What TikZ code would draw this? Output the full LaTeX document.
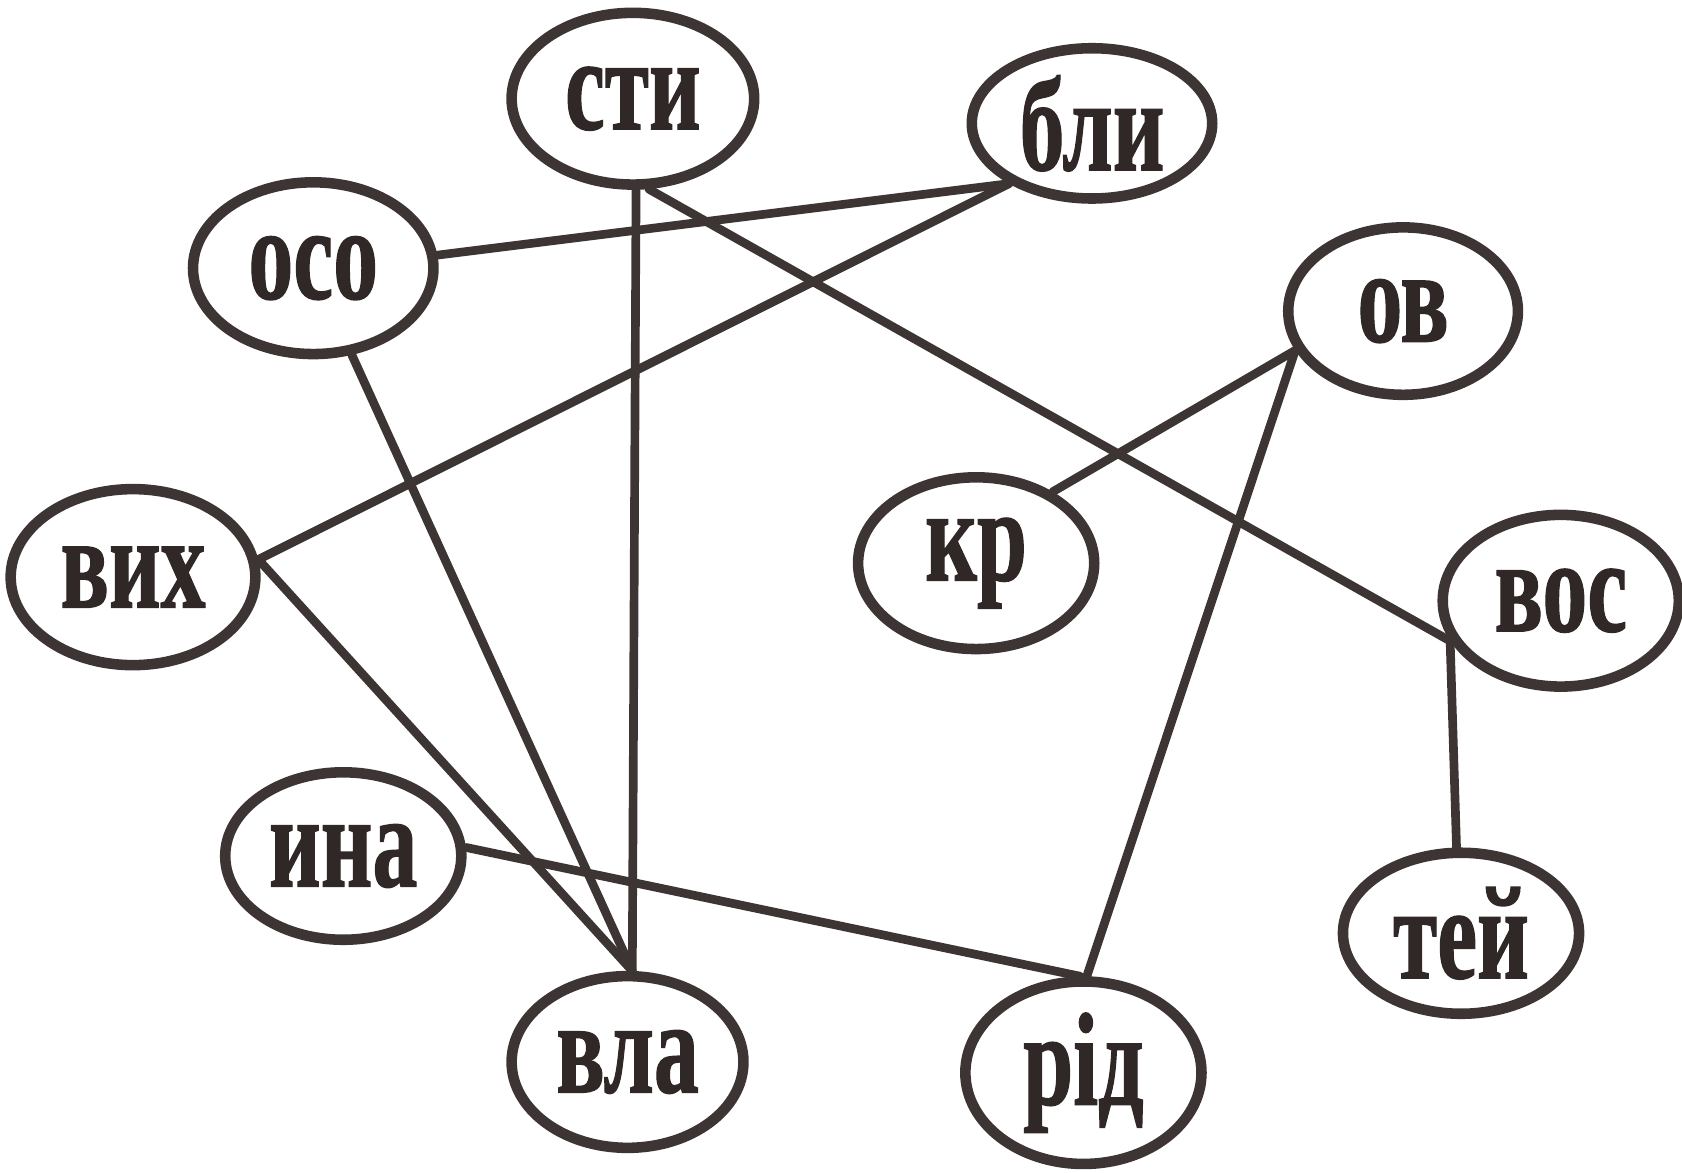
\documentclass[tikz,border=0pt]{standalone}
\usepackage{fontspec}
\usepackage{graphicx}
\setmainfont{Liberation Serif}
\newfontfamily\lblfont{Liberation Serif Bold}[FakeBold=1.2]
\usetikzlibrary{shapes.geometric}
\definecolor{ink}{HTML}{3D3533}
\definecolor{txt}{HTML}{302826}
% condensed bold label text
\newcommand{\lbltext}[1]{\scalebox{0.68}[1]{\fontsize{35}{35}\lblfont #1}}
\tikzset{
  word/.style 2 args={ellipse, draw=ink, line width=2.8pt, fill=white, inner sep=0pt,
    minimum width=#1cm, minimum height=#2cm, text=txt},
  link/.style={draw=ink, line width=2.3pt, line cap=round}
}
\begin{document}
\begin{tikzpicture}[x=0.01cm, y=-0.01cm]
  \useasboundingbox (0,0) rectangle (1568,1093);
  % word fragments
  \node[word={2.26}{1.60}] (sti) at (590,92)   {\lbltext{сти}};
  \node[word={2.24}{1.40}] (bli) at (1018,115) {\lbltext{бли}};
  \node[word={2.24}{1.60}] (oso) at (292,250)  {\lbltext{осо}};
  \node[word={2.14}{1.56}] (ov)  at (1308,290) {\lbltext{ов}};
  \node[word={2.28}{1.64}] (vyh) at (124,538)  {\lbltext{вих}};
  \node[word={2.20}{1.60}] (kr)  at (910,525)  {\lbltext{кр}};
  \node[word={2.20}{1.60}] (vos) at (1455,560) {\lbltext{вос}};
  \node[word={2.20}{1.56}] (ina) at (320,798)  {\lbltext{ина}};
  \node[word={2.20}{1.50}] (tey) at (1362,870) {\lbltext{тей}};
  \node[word={2.16}{1.60}] (vla) at (585,990)  {\lbltext{вла}};
  \node[word={2.20}{1.70}] (rid) at (1010,1000){\lbltext{рід}};
  % connections
  \draw[link] (oso.6)   -- (bli.216);
  \draw[link] (vyh.8)   -- (bli.216);
  \draw[link] (sti.272) -- (vla.87);
  \draw[link] (sti.280) -- (vos.200);
  \draw[link] (oso.294) -- (vla.87);
  \draw[link] (vyh.8)   -- (vla.87);
  \draw[link] (ina.4)   -- (rid.92);
  \draw[link] (ov.200)  -- (kr.43);
  \draw[link] (ov.200)  -- (rid.88);
  \draw[link] (vos.200) -- (tey.93);
\end{tikzpicture}
\end{document}
